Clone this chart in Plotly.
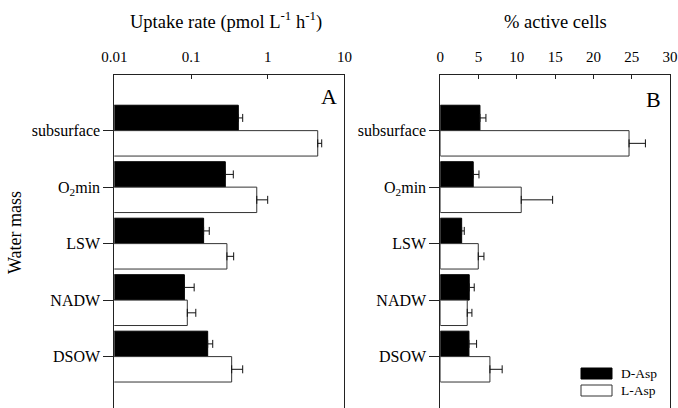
import plotly.graph_objects as go

categories = ["subsurface", "O<sub>2</sub>min", "LSW", "NADW", "DSOW"]
uptake_d = [0.414, 0.280, 0.146, 0.082, 0.165]
uptake_d_err = [0.058, 0.076, 0.027, 0.028, 0.027]
uptake_l = [4.49, 0.72, 0.294, 0.0895, 0.339]
uptake_l_err = [0.57, 0.28, 0.066, 0.026, 0.133]
active_d = [5.18, 4.30, 2.79, 3.78, 3.74]
active_d_err = [0.78, 0.75, 0.34, 0.65, 1.0]
active_l = [24.65, 10.57, 4.96, 3.52, 6.48]
active_l_err = [2.14, 4.1, 0.74, 0.61, 1.6]
uptake_ticks = [0.01, 0.1, 1, 10]
uptake_ticktext = ["0.01", "0.1", "1", "10"]
active_ticks = [0, 5, 10, 15, 20, 25, 30]

FONT = "Liberation Serif, Times New Roman, serif"
W, H = 678, 408


def px(x):
    return x / W


def py(y):
    return 1 - y / H


def err(arr):
    return dict(type="data", array=arr, arrayminus=[0] * len(arr), symmetric=False,
                color="#111", thickness=1, width=4)


fig = go.Figure()
fig.add_trace(go.Bar(y=categories, x=uptake_d, orientation="h", name="D-Asp",
                     marker=dict(color="black", line=dict(color="black", width=1)),
                     error_x=err(uptake_d_err), xaxis="x", yaxis="y", showlegend=False))
fig.add_trace(go.Bar(y=categories, x=uptake_l, orientation="h", name="L-Asp",
                     marker=dict(color="white", line=dict(color="#333", width=1)),
                     error_x=err(uptake_l_err), xaxis="x", yaxis="y", showlegend=False))
fig.add_trace(go.Bar(y=categories, x=active_d, orientation="h", name="D-Asp",
                     marker=dict(color="black", line=dict(color="black", width=1)),
                     error_x=err(active_d_err), xaxis="x2", yaxis="y2", showlegend=False))
fig.add_trace(go.Bar(y=categories, x=active_l, orientation="h", name="L-Asp",
                     marker=dict(color="white", line=dict(color="#333", width=1)),
                     error_x=err(active_l_err), xaxis="x2", yaxis="y2", showlegend=False))

ydom = [0, py(75)]
common_x = dict(side="top", showline=True, linecolor="#222", linewidth=1, ticks="inside",
                ticklen=4, tickcolor="#222", showgrid=False, zeroline=False, automargin=False,
                tickfont=dict(family=FONT, size=15, color="black"), ticklabelstandoff=6)
common_y = dict(type="category", range=[4.91, -0.985], showline=True, mirror=True,
                linecolor="#222", linewidth=1, ticks="outside", ticklen=10, tickcolor="#222",
                showgrid=False, zeroline=False, domain=ydom, automargin=False,
                tickfont=dict(family=FONT, size=16, color="black"))

fig.update_layout(
    width=W, height=H, margin=dict(l=0, r=0, t=0, b=0),
    paper_bgcolor="white", plot_bgcolor="white",
    barmode="group", bargap=0.1, bargroupgap=0,
    xaxis=dict(type="log", range=[-2, 1], domain=[px(114.3), px(344.4)], anchor="y",
               tickvals=uptake_ticks, ticktext=uptake_ticktext, **common_x),
    yaxis=dict(anchor="x", **common_y),
    xaxis2=dict(range=[0, 30], domain=[px(440.3), px(670)], anchor="y2",
                tickvals=active_ticks, **common_x),
    yaxis2=dict(anchor="x2", **common_y),
    font=dict(family=FONT, color="black"),
)

anns = [
    dict(x=px(226), y=py(20), text="Uptake rate (pmol L<sup>-1</sup> h<sup>-1</sup>)", size=18.5),
    dict(x=px(555), y=py(22), text="% active cells", size=18.5),
    dict(x=px(329), y=py(96), text="A", size=22),
    dict(x=px(653), y=py(99), text="B", size=22),
    dict(x=px(15), y=py(233), text="Water mass", size=18, angle=-90),
    dict(x=px(619), y=py(373.5), text="D-Asp", size=13.5, xanchor="left"),
    dict(x=px(619), y=py(390.5), text="L-Asp", size=13.5, xanchor="left"),
]
for a in anns:
    fig.add_annotation(x=a["x"], y=a["y"], xref="paper", yref="paper", text=a["text"],
                       showarrow=False, xanchor=a.get("xanchor", "center"), yanchor="middle",
                       textangle=a.get("angle", 0),
                       font=dict(family=FONT, size=a["size"], color="black"))

fig.add_shape(type="rect", xref="paper", yref="paper", x0=px(581), x1=px(612),
              y0=py(379), y1=py(368), fillcolor="black", line=dict(color="black", width=1))
fig.add_shape(type="rect", xref="paper", yref="paper", x0=px(581), x1=px(612),
              y0=py(396), y1=py(385), fillcolor="white", line=dict(color="#333", width=1))

fig.write_html("out.html")
